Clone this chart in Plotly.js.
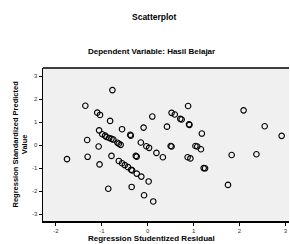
<!DOCTYPE html>
<html>
<head>
<meta charset="utf-8">
<script src="https://cdn.plot.ly/plotly-3.0.1.min.js"></script>
<style>html,body{margin:0;padding:0;background:#fff;}#chart{width:290px;height:244px;}</style>
</head>
<body>
<div id="chart"></div>
<script>
// Regression Studentized Residual (x) vs Regression Standardized Predicted Value (y)
const residual = [
  -0.77, -1.36, -1.10, -1.04, -0.82, 0.10, 0.42, -0.09, -0.56, -1.06,
  -0.38, -0.37, -0.99, -0.93, -0.90, -0.84, -0.79, -0.75, -0.66, -0.63,
  -0.59, -1.32, -0.15, -0.03, 0.03, 0.19, 0.33, -1.07, -1.76, -1.31,
  -1.05, -0.79, -0.26, -0.24, -0.63, -0.56, -0.50, -0.43, -0.36, -0.34,
  -0.24, -0.14, 0.02, -0.86, -0.35, -0.08, 0.12,
  0.88, 0.52, 0.59, 0.71, 0.74, 0.90, 0.91, 1.18, 2.09, 2.55,
  2.92, 0.50, 0.52, 1.04, 1.08, 1.16, 0.87, 0.93, 1.22, 1.25,
  1.83, 2.37, 1.75
];
const predicted = [
  2.39, 1.71, 1.41, 1.31, 1.05, 1.24, 0.80, 0.76, 0.69, 0.64,
  0.45, 0.41, 0.47, 0.41, 0.35, 0.31, 0.27, 0.24, 0.10, 0.06,
  0.01, 0.22, 0.11, -0.05, -0.12, -0.34, -0.53, -0.06, -0.61, -0.51,
  -0.84, -0.47, -0.47, -0.50, -0.69, -0.79, -0.87, -0.96, -1.07, -1.10,
  -1.24, -1.37, -1.58, -1.90, -1.82, -2.18, -2.45,
  1.70, 1.40, 1.33, 1.14, 1.11, 0.90, 0.88, 0.50, 1.51, 0.82,
  0.40, -0.04, -0.06, -0.04, -0.06, -0.18, -0.53, -0.58, -1.00, -1.01,
  -0.43, -0.40, -1.73
];
const xTicks = [-2, -1, 0, 1, 2, 3];
const yTicks = [-3, -2, -1, 0, 1, 2, 3];

const font = 'Liberation Sans, Arial, sans-serif';
const trace = {
  x: residual, y: predicted, type: 'scatter', mode: 'markers',
  marker: {symbol: 'circle-open', size: 5.5, color: '#000', line: {width: 1.1, color: '#000'}},
  hoverinfo: 'none'
};
const layout = {
  width: 290, height: 244,
  margin: {l: 43, r: 1, t: 68, b: 23},
  paper_bgcolor: '#ffffff', plot_bgcolor: '#f0f0f0',
  showlegend: false,
  font: {family: font, color: '#000'},
  xaxis: {
    range: [-2.283, 3.08], tickvals: xTicks, ticktext: xTicks.map(String),
    showgrid: false, zeroline: false, showline: true, linecolor: '#000', linewidth: 1.5,
    ticks: 'outside', ticklen: 3, tickwidth: 1, tickcolor: '#000',
    tickfont: {size: 6, color: '#333', family: font}
  },
  yaxis: {
    range: [-3.30, 3.35], tickvals: yTicks, ticktext: yTicks.map(String),
    showgrid: false, zeroline: false, showline: true, linecolor: '#000', linewidth: 1.5,
    ticks: 'outside', ticklen: 3, tickwidth: 1, tickcolor: '#000',
    tickfont: {size: 6, color: '#333', family: font}
  },
  shapes: [
    {type: 'line', xref: 'paper', yref: 'paper', x0: 0, x1: 1, y0: 1, y1: 1, line: {color: '#000', width: 1.5}}
  ],
  annotations: [
    {text: '<b>Scatterplot</b>', xref: 'paper', yref: 'paper', x: 0.455, y: 1, yshift: 51, xanchor: 'center', yanchor: 'middle', showarrow: false, font: {size: 8.5, family: font, color: '#000'}},
    {text: '<b>Dependent Variable: Hasil Belajar</b>', xref: 'paper', yref: 'paper', x: 0.443, y: 1, yshift: 17, xanchor: 'center', yanchor: 'middle', showarrow: false, font: {size: 8, family: font, color: '#000'}},
    {text: '<b>Regression Studentized Residual</b>', xref: 'paper', yref: 'paper', x: 0.443, y: 0, yshift: -17, xanchor: 'center', yanchor: 'middle', showarrow: false, font: {size: 8, family: font, color: '#000'}},
    {text: '<b>Regression Standardized Predicted<br>Value</b>', xref: 'paper', yref: 'paper', x: 0, xshift: -23, y: 0.5, textangle: -90, xanchor: 'center', yanchor: 'middle', showarrow: false, font: {size: 7.5, family: font, color: '#000'}}
  ]
};
Plotly.newPlot('chart', [trace], layout, {displayModeBar: false, staticPlot: true});
</script>
</body>
</html>
